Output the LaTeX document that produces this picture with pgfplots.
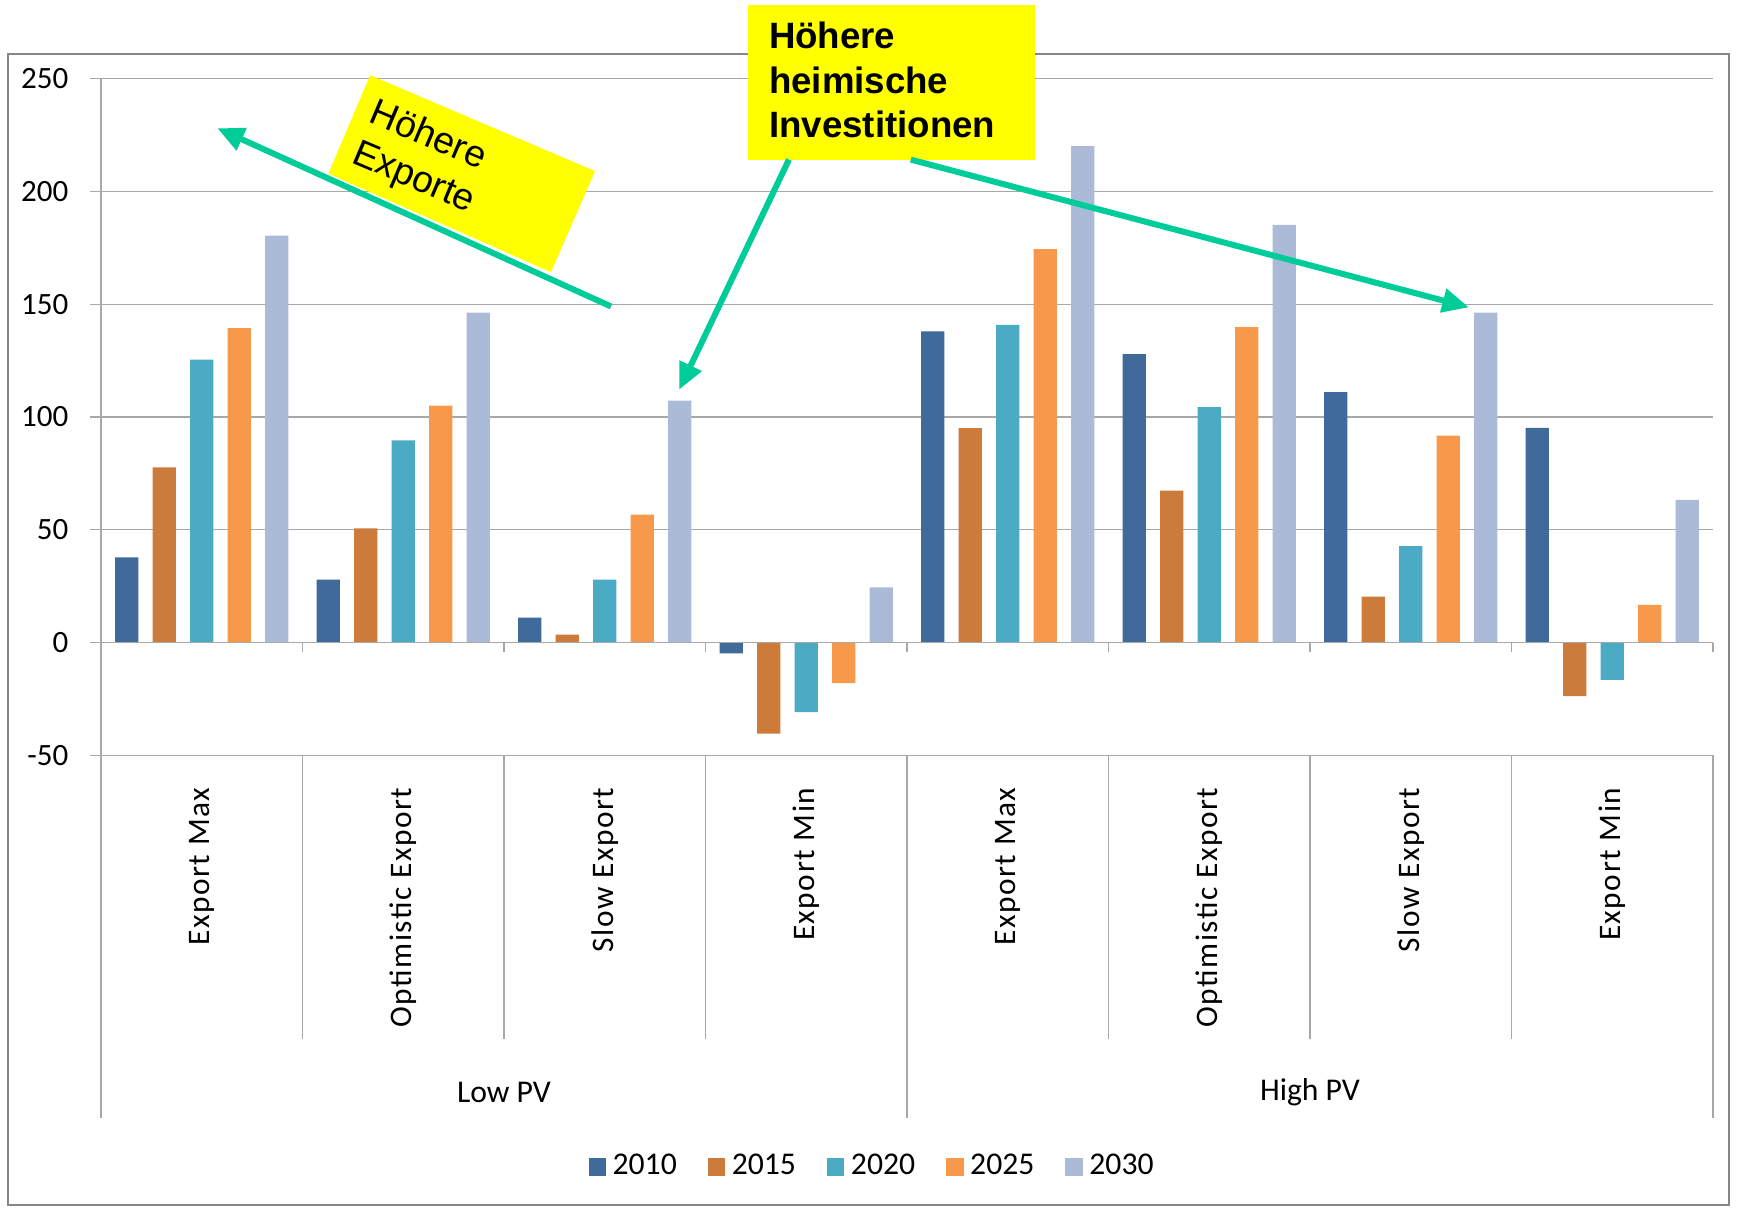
\documentclass[border=0pt]{standalone}
\usepackage{pgfplots}
\usepackage{pgfplotstable}
\pgfplotsset{compat=1.18}
\usepackage{fontspec}
\setmainfont{Carlito}
\newfontfamily\arialfont{Liberation Sans}
\newfontfamily\catfont[LetterSpace=5]{Carlito}
\usetikzlibrary{arrows.meta}
\definecolor{cA}{HTML}{3F6A9A}
\definecolor{cB}{HTML}{CC7B3B}
\definecolor{cC}{HTML}{4BABC5}
\definecolor{cD}{HTML}{F7984B}
\definecolor{cE}{HTML}{ABBAD7}
\definecolor{gridc}{HTML}{A8A8A8}
\definecolor{framec}{HTML}{868686}
\definecolor{arrowc}{HTML}{00CC99}
\definecolor{boxy}{HTML}{FFFF00}

\pgfplotstableread{
x y2010 y2015 y2020 y2025 y2030
0 37.7 77.7 125.4 139.4 180.4
1 27.9 50.6 89.6 105.0 146.3
2 11.0 3.5 27.9 56.7 107.2
3 -4.8 -40.4 -30.8 -18.0 24.4
4 138.0 95.1 140.8 174.4 220.1
5 127.9 67.3 104.4 139.8 185.2
6 111.0 20.4 42.7 91.7 146.3
7 95.2 -23.8 -16.5 16.7 63.3
}\datatable

\begin{document}
\begin{tikzpicture}
\path (0,0) rectangle (521.7pt,362.1pt);
\draw[framec, line width=0.6pt] (2.31pt,0.6pt) rectangle (518.55pt,345.9pt);
\begin{axis}[
  at={(30.3pt,135.51pt)}, anchor=south west,
  scale only axis, width=483.6pt, height=203pt,
  xmin=-0.5, xmax=7.5, ymin=-50, ymax=250,
  axis y line*=left, axis x line*=bottom,
  axis line style={draw=gridc, line width=0.4pt},
  ytick={-50,0,50,100,150,200,250},
  yticklabels={-50,0,50,100,150,200,250},
  ymajorgrids, major grid style={draw=gridc, line width=0.4pt},
  tick align=outside, major tick length=3.3pt,
  ytick style={draw=gridc, line width=0.4pt},
  xtick style={draw=none},
  xtick={0,1,2,3,4,5,6,7},
  xticklabels={Export Max,Optimistic Export,Slow Export,Export Min,Export Max,Optimistic Export,Slow Export,Export Min},
  yticklabel style={font=\fontsize{9.3}{11}\selectfont, inner xsep=6.3pt},
  xticklabel style={rotate=90, anchor=east, font=\catfont\fontsize{9.4}{11}\selectfont, inner xsep=6.2pt, inner ysep=0pt},
  ybar, bar width=0.116,
  clip=false,
  legend columns=5,
  legend style={draw=none, fill=none, at={(0.4798,-0.6084)}, anchor=center,
    font=\fontsize{9.5}{11}\selectfont,
    /tikz/every even column/.append style={column sep=7.3pt}},
  legend image code/.code={\fill[#1] (0pt,-2.7pt) rectangle (5.2pt,2.7pt);},
]
\addplot[fill=cA, draw=none, bar shift=-0.372] table[x=x,y=y2010]{\datatable};
\addplot[fill=cB, draw=none, bar shift=-0.186] table[x=x,y=y2015]{\datatable};
\addplot[fill=cC, draw=none, bar shift=0] table[x=x,y=y2020]{\datatable};
\addplot[fill=cD, draw=none, bar shift=0.186] table[x=x,y=y2025]{\datatable};
\addplot[fill=cE, draw=none, bar shift=0.372] table[x=x,y=y2030]{\datatable};
\legend{2010,2015,2020,2025,2030}

% zero line and its ticks
\draw[gridc, line width=0.4pt] (axis cs:-0.5,0) -- (axis cs:7.5,0);
\draw[gridc, line width=0.4pt] (axis cs:0.5,0) -- (axis cs:0.5,-4.3);
\draw[gridc, line width=0.4pt] (axis cs:1.5,0) -- (axis cs:1.5,-4.3);
\draw[gridc, line width=0.4pt] (axis cs:2.5,0) -- (axis cs:2.5,-4.3);
\draw[gridc, line width=0.4pt] (axis cs:3.5,0) -- (axis cs:3.5,-4.3);
\draw[gridc, line width=0.4pt] (axis cs:4.5,0) -- (axis cs:4.5,-4.3);
\draw[gridc, line width=0.4pt] (axis cs:5.5,0) -- (axis cs:5.5,-4.3);
\draw[gridc, line width=0.4pt] (axis cs:6.5,0) -- (axis cs:6.5,-4.3);
\draw[gridc, line width=0.4pt] (axis cs:7.5,0) -- (axis cs:7.5,-4.3);

% category separators
\draw[gridc, line width=0.4pt] (axis cs:0.5,-50) -- (axis cs:0.5,-175.8);
\draw[gridc, line width=0.4pt] (axis cs:1.5,-50) -- (axis cs:1.5,-175.8);
\draw[gridc, line width=0.4pt] (axis cs:2.5,-50) -- (axis cs:2.5,-175.8);
\draw[gridc, line width=0.4pt] (axis cs:4.5,-50) -- (axis cs:4.5,-175.8);
\draw[gridc, line width=0.4pt] (axis cs:5.5,-50) -- (axis cs:5.5,-175.8);
\draw[gridc, line width=0.4pt] (axis cs:6.5,-50) -- (axis cs:6.5,-175.8);
\draw[gridc, line width=0.4pt] (axis cs:-0.5,-50) -- (axis cs:-0.5,-210.8);
\draw[gridc, line width=0.4pt] (axis cs:3.5,-50) -- (axis cs:3.5,-210.8);
\draw[gridc, line width=0.4pt] (axis cs:7.5,-50) -- (axis cs:7.5,-210.8);

\node[font=\fontsize{9.5}{11}\selectfont] at (axis cs:1.5,-199.3) {Low PV};
\node[font=\fontsize{9.5}{11}\selectfont] at (axis cs:5.5,-199.3) {High PV};

% annotation 1
\fill[boxy] (axis cs:0.836,251.5) -- (axis cs:1.952,209.0) -- (axis cs:1.733,164.2) -- (axis cs:0.628,207.9) -- cycle;
\node[rotate=-23, align=left, inner sep=0pt, font=\arialfont\fontsize{11.2}{13.2}\selectfont] at (axis cs:1.093,214.8) {Höhere\\Exporte};

% annotation 2
\fill[boxy] (axis cs:2.711,282.7) rectangle (axis cs:4.136,214.1);
\node[anchor=north west, align=left, inner sep=0pt, font=\arialfont\bfseries\fontsize{11}{13.4}\selectfont] at (axis cs:2.812,275.5) {Höhere\\heimische\\Investitionen};

% arrows
\draw[arrowc, line width=1.8pt, -{Triangle[length=8pt,width=7pt]}] (axis cs:2.031,149.0) -- (axis cs:0.0777,228.0);
\draw[arrowc, line width=1.8pt, -{Triangle[length=8pt,width=7pt]}] (axis cs:2.914,214.1) -- (axis cs:2.3695,112.1);
\draw[arrowc, line width=1.8pt, -{Triangle[length=8pt,width=7pt]}] (axis cs:3.519,214.1) -- (axis cs:6.289,148.6);
\end{axis}
\end{tikzpicture}
\end{document}
